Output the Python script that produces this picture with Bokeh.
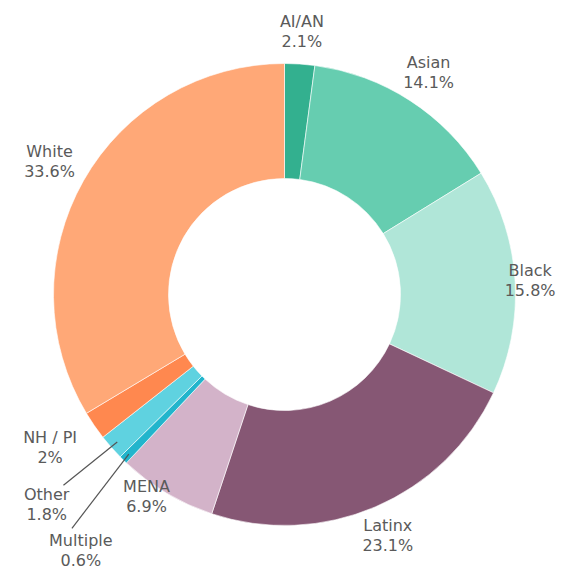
import math
from bokeh.plotting import figure
from bokeh.models import Range1d, ColumnDataSource
from bokeh.core.properties import value
from bokeh.embed import file_html
from bokeh.resources import INLINE

# ---- data ----
categories = ["AI/AN", "Asian", "Black", "Latinx", "MENA", "Multiple", "Other", "NH / PI", "White"]
shares = [2.1, 14.1, 15.8, 23.1, 6.9, 0.6, 1.8, 2.0, 33.6]
value_labels = ["2.1%", "14.1%", "15.8%", "23.1%", "6.9%", "0.6%", "1.8%", "2%", "33.6%"]
colors = ["#33b08f", "#66cdb0", "#b0e6d8", "#865774", "#d3b3c9",
          "#22b5cc", "#5fd2e0", "#ff884f", "#ffa877"]

# ---- style / layout (pixels) ----
W, H = 556, 569
CX, CY = 284, -294          # centre (data y = -image y)
R_OUT, R_IN = 231, 116
label_r = [264, 265, 246, 262, 245, 327, 317, 280, 270]
label_dang = [0, 0, 0, 0, 3.5, -5.75, 0, 1.4, 0]     # degrees, clockwise from slice middle
leader_end = {5: (316, -2.0), 6: (292, 0.6)}         # index -> (radius, angle shift)
LEADER_R0 = 223

total = sum(shares)
starts, ends, mids = [], [], []
cum = 0.0
for s in shares:
    a0 = cum / total * 2 * math.pi
    cum += s
    a1 = cum / total * 2 * math.pi
    starts.append(math.pi / 2 - a0)
    ends.append(math.pi / 2 - a1)
    mids.append((a0 + a1) / 2)   # clockwise from top

src = ColumnDataSource(dict(start=starts, end=ends, color=colors, cat=categories))

p = figure(width=W, height=H, output_backend="svg", toolbar_location=None,
           x_range=Range1d(0, W), y_range=Range1d(-H, 0),
           min_border=0, outline_line_color=None)
p.axis.visible = False
p.grid.visible = False
p.background_fill_color = "white"
p.border_fill_color = "white"

p.annular_wedge(x=CX, y=CY, inner_radius=R_IN, outer_radius=R_OUT,
                start_angle="start", end_angle="end", direction="clock",
                fill_color="color", line_color="white", line_width=0.6, source=src)

# labels
nx, ny, vy = [], [], []
for i, m in enumerate(mids):
    th = m + math.radians(label_dang[i])
    x = CX + label_r[i] * math.sin(th)
    y = CY + label_r[i] * math.cos(th)
    nx.append(x)
    ny.append(y + 10)
    vy.append(y - 10)

lab = ColumnDataSource(dict(x=nx, ny=ny, vy=vy, name=categories, val=value_labels))
common = dict(text_font=value("DejaVu Sans"), text_font_size="16px", text_color="#5a5a5a",
              text_align="center", text_baseline="middle", source=lab)
p.text(x="x", y="ny", text="name", **common)
p.text(x="x", y="vy", text="val", **common)

# leader lines
x0s, y0s, x1s, y1s = [], [], [], []
for i, (r1, dang) in leader_end.items():
    m = mids[i]
    x0s.append(CX + LEADER_R0 * math.sin(m))
    y0s.append(CY + LEADER_R0 * math.cos(m))
    th = m + math.radians(dang)
    x1s.append(CX + r1 * math.sin(th))
    y1s.append(CY + r1 * math.cos(th))
p.segment(x0=x0s, y0=y0s, x1=x1s, y1=y1s, line_color="#555555", line_width=1.2)

open("out.html", "w").write(file_html(p, INLINE))
